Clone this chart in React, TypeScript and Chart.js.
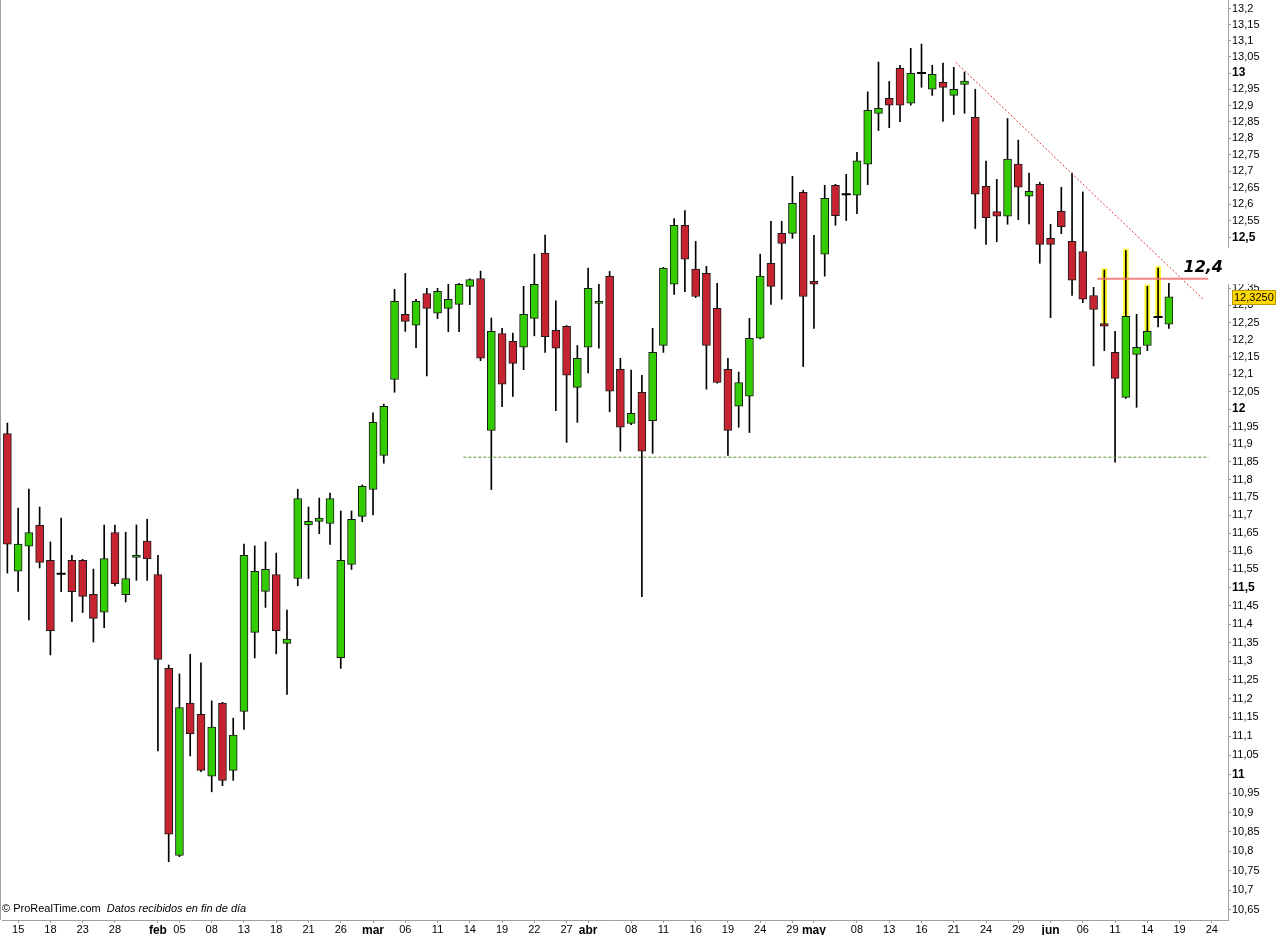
import React, { useEffect, useRef } from 'react';
import { Chart, registerables } from 'chart.js';
Chart.register(...registerables);

// Trading days, 2013 (Madrid market; Mar 29, Apr 1, May 1 closed), plus 5 future sessions
const dates = [
  '01-14','01-15','01-16','01-17','01-18','01-21','01-22','01-23','01-24','01-25','01-28','01-29','01-30','01-31',
  '02-01','02-04','02-05','02-06','02-07','02-08','02-11','02-12','02-13','02-14','02-15','02-18','02-19','02-20','02-21','02-22','02-25','02-26','02-27','02-28',
  '03-01','03-04','03-05','03-06','03-07','03-08','03-11','03-12','03-13','03-14','03-15','03-18','03-19','03-20','03-21','03-22','03-25','03-26','03-27','03-28',
  '04-02','04-03','04-04','04-05','04-08','04-09','04-10','04-11','04-12','04-15','04-16','04-17','04-18','04-19','04-22','04-23','04-24','04-25','04-26','04-29','04-30',
  '05-02','05-03','05-06','05-07','05-08','05-09','05-10','05-13','05-14','05-15','05-16','05-17','05-20','05-21','05-22','05-23','05-24','05-27','05-28','05-29','05-30','05-31',
  '06-03','06-04','06-05','06-06','06-07','06-10','06-11','06-12','06-13','06-14','06-17','06-18','06-19','06-20','06-21','06-24','06-25',
];

const opens = [
  11.93, 11.545, 11.614, 11.672, 11.575, 11.538, 11.575, 11.575, 11.482, 11.433, 11.652, 11.481, 11.583, 11.628,
  11.536, 11.281, 10.789, 11.188, 11.158, 10.995, 11.188, 11.01, 11.166, 11.378, 11.49, 11.536, 11.348, 11.525, 11.673, 11.683, 11.677, 11.31, 11.564, 11.697,
  11.772, 11.868, 12.085, 12.274, 12.242, 12.335, 12.277, 12.291, 12.303, 12.356, 12.379, 11.939, 12.218, 12.195, 12.178, 12.262, 12.454, 12.227, 12.239, 12.062,
  12.178, 12.306, 12.386, 12.114, 11.959, 12.048, 11.967, 12.183, 12.362, 12.537, 12.407, 12.394, 12.291, 12.114, 12.008, 12.037, 12.204, 12.424, 12.513, 12.513, 12.636,
  12.371, 12.451, 12.657, 12.63, 12.627, 12.721, 12.876, 12.922, 13.015, 12.907, 13.0, 12.95, 12.971, 12.931, 12.965, 12.864, 12.654, 12.578, 12.564, 12.721, 12.624, 12.66,
  12.498, 12.579, 12.489, 12.459, 12.329, 12.247, 12.163, 12.033, 12.157, 12.183, 12.266, 12.245,
];
const highs = [
  11.96, 11.72, 11.773, 11.723, 11.626, 11.692, 11.589, 11.578, 11.551, 11.673, 11.673, 11.653, 11.673, 11.689,
  11.589, 11.29, 11.266, 11.319, 11.296, 11.194, 11.19, 11.148, 11.62, 11.615, 11.626, 11.595, 11.439, 11.773, 11.723, 11.748, 11.762, 11.712, 11.712, 11.785,
  11.989, 12.014, 12.347, 12.394, 12.318, 12.35, 12.35, 12.362, 12.365, 12.378, 12.401, 12.263, 12.233, 12.219, 12.356, 12.451, 12.508, 12.313, 12.241, 12.183,
  12.41, 12.362, 12.4, 12.146, 12.112, 12.097, 12.233, 12.412, 12.557, 12.581, 12.489, 12.415, 12.365, 12.146, 12.106, 12.262, 12.451, 12.549, 12.549, 12.684, 12.642,
  12.507, 12.657, 12.66, 12.69, 12.757, 12.942, 13.034, 12.974, 13.024, 13.077, 13.09, 13.024, 13.031, 13.018, 13.003, 12.95, 12.73, 12.675, 12.86, 12.794, 12.694, 12.666,
  12.54, 12.651, 12.694, 12.637, 12.353, 12.404, 12.224, 12.462, 12.274, 12.356, 12.41, 12.365,
];
const lows = [
  11.54, 11.49, 11.412, 11.554, 11.317, 11.489, 11.407, 11.432, 11.352, 11.391, 11.505, 11.461, 11.52, 11.52,
  11.061, 10.773, 10.786, 11.048, 11.007, 10.954, 10.97, 10.984, 11.118, 11.309, 11.446, 11.32, 11.211, 11.505, 11.525, 11.649, 11.619, 11.281, 11.55, 11.682,
  11.701, 11.846, 12.048, 12.224, 12.177, 12.095, 12.261, 12.223, 12.223, 12.302, 12.139, 11.772, 12.007, 12.036, 12.113, 12.211, 12.163, 11.995, 11.905, 11.962,
  12.104, 12.175, 11.992, 11.88, 11.955, 11.475, 11.874, 12.163, 12.332, 12.34, 12.323, 12.057, 12.074, 11.868, 11.948, 11.933, 12.202, 12.303, 12.318, 12.498, 12.122,
  12.233, 12.386, 12.537, 12.551, 12.572, 12.659, 12.823, 12.832, 12.85, 12.901, 12.956, 12.931, 12.851, 12.872, 12.876, 12.527, 12.48, 12.488, 12.54, 12.554, 12.541, 12.424,
  12.264, 12.512, 12.329, 12.308, 12.124, 12.168, 11.849, 12.03, 12.005, 12.168, 12.237, 12.233,
];
const closes = [
  11.62, 11.62, 11.652, 11.569, 11.383, 11.538, 11.489, 11.476, 11.416, 11.58, 11.511, 11.525, 11.589, 11.58,
  11.305, 10.844, 11.176, 11.107, 11.01, 11.124, 10.984, 11.103, 11.589, 11.545, 11.55, 11.383, 11.36, 11.747, 11.683, 11.692, 11.747, 11.575, 11.689, 11.781,
  11.962, 12.008, 12.312, 12.253, 12.312, 12.291, 12.341, 12.318, 12.362, 12.376, 12.146, 12.224, 12.071, 12.131, 12.274, 12.362, 12.209, 12.175, 12.097, 12.146,
  12.35, 12.312, 12.051, 11.948, 11.988, 11.88, 12.163, 12.41, 12.537, 12.436, 12.326, 12.183, 12.076, 11.939, 12.076, 12.204, 12.386, 12.356, 12.483, 12.603, 12.326,
  12.362, 12.618, 12.566, 12.63, 12.731, 12.885, 12.891, 12.901, 12.901, 12.999, 13.0, 12.996, 12.956, 12.95, 12.975, 12.63, 12.56, 12.564, 12.736, 12.651, 12.639, 12.48,
  12.48, 12.533, 12.374, 12.318, 12.288, 12.239, 12.088, 12.268, 12.178, 12.224, 12.266, 12.325,
];

// sessions whose upper shadow is highlighted in yellow
const highlightedDates = ['06-10', '06-12', '06-14', '06-17'];

// bottom axis labels
const xTickDates = ['01-15','01-18','01-23','01-28','02-01','02-05','02-08','02-13','02-18','02-21','02-26','03-01','03-06','03-11','03-14','03-19','03-22','03-27','04-02','04-08','04-11','04-16','04-19','04-24','04-29','05-02','05-08','05-13','05-16','05-21','05-24','05-29','06-03','06-06','06-11','06-14','06-19','06-24'];
const xTickTexts = ['15','18','23','28','feb','05','08','13','18','21','26','mar','06','11','14','19','22','27','abr','08','11','16','19','24','29','may','08','13','16','21','24','29','jun','06','11','14','19','24'];
const monthTexts = ['feb', 'mar', 'abr', 'may', 'jun'];

// right axis labels
const yTicks = [
  10.65, 10.7, 10.75, 10.8, 10.85, 10.9, 10.95, 11, 11.05, 11.1, 11.15, 11.2, 11.25, 11.3, 11.35, 11.4, 11.45, 11.5,
  11.55, 11.6, 11.65, 11.7, 11.75, 11.8, 11.85, 11.9, 11.95, 12, 12.05, 12.1, 12.15, 12.2, 12.25, 12.3, 12.35, 12.4,
  12.45, 12.5, 12.55, 12.6, 12.65, 12.7, 12.75, 12.8, 12.85, 12.9, 12.95, 13, 13.05, 13.1, 13.15, 13.2,
];
const yBoldTicks = [11, 11.5, 12, 12.5, 13];
const yRange = [10.6245, 13.2283];

// drawn objects (x in session index units)
const trendX = [88.2, 111.25];
const trendY = [13.033, 12.316];
const resistX = [101.35, 111.66];
const resistY = [12.378, 12.378];
const supportX = [42.4, 111.7];
const supportY = [11.863, 11.863];
const levelText = '12,4';
const levelTextPos = [111.2, 12.41];
const levelCoverRange = [12.362, 12.47];

const footerSource = '\u00A9 ProRealTime.com';
const footerNote = 'Datos recibidos en fin de d\u00EDa';

const FONT = '"Liberation Sans", Arial, sans-serif';
const GREEN = '#33cc00';
const RED = '#c62330';

export default function App() {
  const ref = useRef<HTMLCanvasElement>(null);
  useEffect(() => {
    document.body.style.margin = '0';
    const canvas = ref.current!;
    const n = opens.length;
    const bodies = dates.map((_, i) => (i < n && opens[i] !== closes[i] ? [opens[i], closes[i]] : null));
    const wicks = dates.map((_, i) => (i < n ? [lows[i], highs[i]] : null));
    const dojis = dates.map((_, i) => (i < n && opens[i] === closes[i] ? opens[i] : null));
    const glows = dates.map((d, i) =>
      i < n && highlightedDates.includes(d) ? [Math.max(opens[i], closes[i]), highs[i] + 0.004] : null
    );
    const bodyColors = dates.map((_, i) => (i < n && closes[i] >= opens[i] ? GREEN : RED));

    const extras = {
      id: 'extras',
      afterDraw(chart: any) {
        const { ctx, chartArea, scales } = chart;
        const y = scales.y;
        const xl = scales.xl;
        ctx.save();
        // left frame line
        ctx.fillStyle = '#a0a0a0';
        ctx.fillRect(0, 0, 1, chartArea.bottom);
        // footer
        ctx.fillStyle = '#000';
        ctx.textBaseline = 'middle';
        ctx.textAlign = 'left';
        ctx.font = '11px ' + FONT;
        ctx.fillText(footerSource, 2, chartArea.bottom - 11);
        const w = ctx.measureText(footerSource).width;
        ctx.font = 'italic 11px ' + FONT;
        ctx.fillText(footerNote, 2 + w + 6, chartArea.bottom - 11);
        // cover behind level text on the axis
        const cTop = y.getPixelForValue(levelCoverRange[1]);
        const cBot = y.getPixelForValue(levelCoverRange[0]);
        ctx.fillStyle = '#fff';
        ctx.fillRect(chartArea.right - 5, cTop, chart.width - chartArea.right + 5, cBot - cTop);
        // level text
        ctx.fillStyle = '#000';
        ctx.font = 'italic bold 16px "DejaVu Sans", sans-serif';
        ctx.textAlign = 'center';
        ctx.fillText(levelText, xl.getPixelForValue(levelTextPos[0]), y.getPixelForValue(levelTextPos[1]));
        // last close label
        const last = closes[n - 1];
        const yy = Math.round(y.getPixelForValue(last));
        const bx = chartArea.right + 4;
        ctx.fillStyle = '#ffd800';
        ctx.fillRect(bx, yy - 7, 44, 15);
        ctx.strokeStyle = '#b89a00';
        ctx.lineWidth = 1;
        ctx.strokeRect(bx + 0.5, yy - 6.5, 43, 14);
        ctx.fillStyle = '#000';
        ctx.textAlign = 'left';
        ctx.font = '11px ' + FONT;
        ctx.fillText(last.toFixed(4).replace('.', ','), bx + 2, yy + 1);
        ctx.restore();
      },
    };

    const lineDs = (xs: number[], ys: number[], color: string, width: number, dash: number[]) => ({
      type: 'line' as const,
      xAxisID: 'xl',
      data: xs.map((x, i) => ({ x, y: ys[i] })),
      borderColor: color,
      borderWidth: width,
      borderDash: dash,
      pointRadius: 0,
      tension: 0,
      order: -1,
    });

    const chart = new Chart(canvas, {
      type: 'bar',
      data: {
        labels: dates,
        datasets: [
          {
            data: glows as any,
            backgroundColor: 'rgba(255, 250, 20, 0.9)',
            borderWidth: 0,
            barThickness: 5,
            grouped: false,
            order: 3,
          },
          {
            data: wicks as any,
            backgroundColor: '#000',
            borderWidth: 0,
            barThickness: 1,
            grouped: false,
            order: 2,
          },
          {
            data: bodies as any,
            backgroundColor: bodyColors,
            borderColor: '#1a1a1a',
            borderWidth: 1,
            borderSkipped: false,
            barThickness: 8,
            grouped: false,
            order: 1,
          },
          {
            type: 'line',
            data: dojis as any,
            showLine: false,
            pointStyle: 'line',
            pointRadius: 4.5,
            pointBorderWidth: 2,
            pointBorderColor: '#000',
            borderColor: '#000',
            order: 0,
          } as any,
          lineDs(supportX, supportY, '#5f8f30', 1, [3, 2]) as any,
          lineDs(resistX, resistY, 'rgba(240, 110, 110, 0.85)', 2, []) as any,
          lineDs(trendX, trendY, '#d83a3a', 1, [2, 2]) as any,
        ],
      },
      options: {
        animation: false,
        responsive: false,
        devicePixelRatio: 1,
        layout: { autoPadding: false, padding: { left: 2, right: 0, top: 0, bottom: 0 } },
        plugins: { legend: { display: false }, tooltip: { enabled: false } },
        scales: {
          x: {
            type: 'category',
            offset: true,
            grid: { offset: false, drawOnChartArea: false, drawTicks: true, tickLength: 3, tickColor: '#999' },
            border: { color: '#a0a0a0' },
            afterBuildTicks: (scale: any) => {
              scale.ticks = scale.ticks.filter((t: any) => xTickDates.includes(dates[t.value]));
            },
            afterFit: (scale: any) => {
              scale.height = 15;
              scale.paddingLeft = 0;
              scale.paddingRight = 0;
            },
            ticks: {
              autoSkip: false,
              maxRotation: 0,
              minRotation: 0,
              padding: 0,
              color: '#000',
              font: (ctx: any) => {
                const v = ctx.tick ? ctx.tick.value : -1;
                const k = xTickDates.indexOf(dates[v]);
                const bold = k >= 0 && monthTexts.includes(xTickTexts[k]);
                return { family: FONT, size: bold ? 12 : 11, weight: bold ? 'bold' : 'normal' };
              },
              callback: (v: any) => {
                const k = xTickDates.indexOf(dates[v]);
                return k >= 0 ? xTickTexts[k] : '';
              },
            },
          },
          xl: {
            type: 'linear',
            display: false,
            offset: false,
            bounds: 'data',
            grid: { offset: false },
            min: -0.5,
            max: dates.length - 0.5,
            afterBuildTicks: (scale: any) => {
              scale.min = -0.5;
              scale.max = dates.length - 0.5;
            },
          },
          y: {
            type: 'logarithmic',
            position: 'right',
            bounds: 'data',
            min: yRange[0],
            max: yRange[1],
            grid: { drawOnChartArea: false, drawTicks: true, tickLength: 3, tickColor: '#999' },
            border: { color: '#a0a0a0' },
            afterBuildTicks: (scale: any) => {
              scale.ticks = yTicks.map((v) => ({ value: v }));
              scale.min = yRange[0];
              scale.max = yRange[1];
            },
            afterFit: (scale: any) => {
              scale.width = 50;
              scale.paddingTop = 0;
              scale.paddingBottom = 0;
            },
            ticks: {
              autoSkip: false,
              padding: 1,
              color: '#000',
              font: (ctx: any) => {
                const v = ctx.tick ? ctx.tick.value : 0;
                const bold = yBoldTicks.some((b) => Math.abs(b - v) < 1e-6);
                return { family: FONT, size: bold ? 12 : 11, weight: bold ? 'bold' : 'normal' };
              },
              callback: (v: any) => {
                const s = Number(v).toFixed(2).replace(/0+$/, '').replace(/\.$/, '');
                return s.replace('.', ',');
              },
            },
          },
        },
      },
      plugins: [extras],
    } as any);
    return () => chart.destroy();
  }, []);

  return (
    <div style={{ position: 'absolute', left: 0, top: 0, width: 1278, height: 935, background: '#fff' }}>
      <canvas ref={ref} width={1278} height={935} style={{ width: 1278, height: 935, display: 'block' }} />
    </div>
  );
}
